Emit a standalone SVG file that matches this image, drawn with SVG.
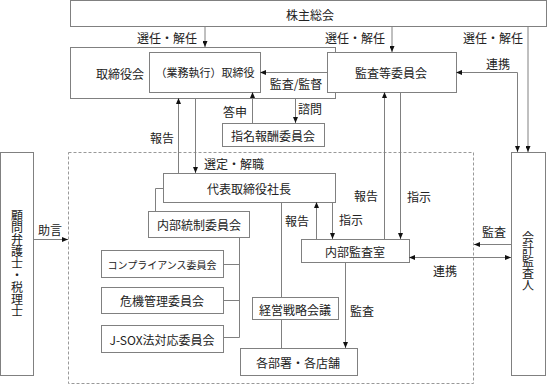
<svg xmlns="http://www.w3.org/2000/svg" width="548" height="385" viewBox="0 0 548 385">
<style>
.box{fill:#fff;stroke:#808080;stroke-width:1}
.ln{fill:none;stroke:#808080;stroke-width:1}
.dash{fill:none;stroke:#999;stroke-width:1;stroke-dasharray:3,2}
text{font-family:"Noto Sans CJK JP","Liberation Serif",sans-serif;font-size:12px;fill:#222;text-anchor:middle;dominant-baseline:central}
.s{font-size:10px}
.m{font-size:11px}
.v{writing-mode:vertical-rl;dominant-baseline:auto}
</style>
<defs>
<marker id="ah" viewBox="0 0 6 5" refX="6" refY="2.5" markerWidth="6" markerHeight="5" markerUnits="userSpaceOnUse" orient="auto-start-reverse">
<path d="M0,0 L6,2.5 L0,5 z" fill="#111"/>
</marker>
</defs>

<rect class="dash" x="68.5" y="152.5" width="405" height="231"/>

<g id="shareholders">
<rect class="box" x="70.5" y="0.5" width="476" height="26"/>
<text x="310" y="14">株主総会</text>
</g>
<g id="board">
<rect class="box" x="70.5" y="47.5" width="265" height="51"/>
<text x="120" y="73">取締役会</text>
</g>
<g id="exec-directors">
<rect class="box" x="149.5" y="52.5" width="111" height="40"/>
<text class="m" x="205" y="72">（業務執行）取締役</text>
</g>
<g id="audit-committee">
<rect class="box" x="327.5" y="52.5" width="129" height="40"/>
<text x="391" y="72">監査等委員会</text>
</g>
<g id="nomination-committee">
<rect class="box" x="222.5" y="123.5" width="102" height="23"/>
<text x="273" y="135">指名報酬委員会</text>
</g>
<g id="president">
<rect class="box" x="163.5" y="173.5" width="172" height="29"/>
<text x="249" y="188">代表取締役社長</text>
</g>
<g id="advisors">
<rect class="box" x="0.5" y="152.5" width="33" height="223"/>
<text class="v" x="17" y="263.5">顧問弁護士・税理士</text>
</g>
<g id="auditor">
<rect class="box" x="511.5" y="152.5" width="34" height="223"/>
<text class="v" x="528" y="261">会計監査人</text>
</g>
<g id="internal-control">
<rect class="box" x="148.5" y="211.5" width="101" height="26"/>
<text x="199" y="224">内部統制委員会</text>
</g>
<g id="compliance">
<rect class="box" x="101.5" y="250.5" width="122" height="27"/>
<text class="s" x="162" y="264">コンプライアンス委員会</text>
</g>
<g id="risk">
<rect class="box" x="101.5" y="287.5" width="122" height="26"/>
<text x="162" y="300">危機管理委員会</text>
</g>
<g id="jsox">
<rect class="box" x="101.5" y="325.5" width="122" height="27"/>
<text x="162" y="339">J-SOX法対応委員会</text>
</g>
<g id="strategy">
<rect class="box" x="252.5" y="297.5" width="86" height="22"/>
<text x="295" y="309">経営戦略会議</text>
</g>
<g id="departments">
<rect class="box" x="240.5" y="348.5" width="117" height="27"/>
<text x="298" y="362">各部署・各店舗</text>
</g>
<g id="internal-audit">
<rect class="box" x="301.5" y="239.5" width="108" height="23"/>
<text x="355" y="251">内部監査室</text>
</g>

<g id="connectors">
<line class="ln" x1="205" y1="26.5" x2="205" y2="47" marker-end="url(#ah)"/>
<line class="ln" x1="392" y1="26.5" x2="392" y2="52" marker-end="url(#ah)"/>
<line class="ln" x1="528" y1="26.5" x2="528" y2="152" marker-end="url(#ah)"/>
<polyline class="ln" points="456,72.5 517.5,72.5 517.5,152" marker-start="url(#ah)" marker-end="url(#ah)"/>
<line class="ln" x1="327" y1="72.5" x2="260" y2="72.5" marker-end="url(#ah)"/>
<line class="ln" x1="295.5" y1="98" x2="295.5" y2="123" marker-end="url(#ah)"/>
<line class="ln" x1="252.5" y1="123" x2="252.5" y2="92" marker-end="url(#ah)"/>
<line class="ln" x1="178.5" y1="173" x2="178.5" y2="98" marker-end="url(#ah)"/>
<line class="ln" x1="195.5" y1="98" x2="195.5" y2="173" marker-end="url(#ah)"/>
<line class="ln" x1="33" y1="239.5" x2="68" y2="239.5" marker-end="url(#ah)"/>
<polyline class="ln" points="163,188.5 155.5,188.5 155.5,211"/>
<line class="ln" x1="239.5" y1="237" x2="239.5" y2="337.5"/>
<line class="ln" x1="223" y1="264.5" x2="239.5" y2="264.5"/>
<line class="ln" x1="223" y1="300.5" x2="239.5" y2="300.5"/>
<line class="ln" x1="223" y1="337.5" x2="239.5" y2="337.5"/>
<line class="ln" x1="281.5" y1="202" x2="281.5" y2="297"/>
<line class="ln" x1="281.5" y1="319.5" x2="281.5" y2="348"/>
<line class="ln" x1="316.5" y1="239" x2="316.5" y2="202" marker-end="url(#ah)"/>
<line class="ln" x1="332.5" y1="202" x2="332.5" y2="239" marker-end="url(#ah)"/>
<line class="ln" x1="384.5" y1="239" x2="384.5" y2="92" marker-end="url(#ah)"/>
<line class="ln" x1="400.5" y1="92" x2="400.5" y2="239" marker-end="url(#ah)"/>
<line class="ln" x1="345.5" y1="262" x2="345.5" y2="348" marker-end="url(#ah)"/>
<line class="ln" x1="511" y1="244.5" x2="474" y2="244.5" marker-end="url(#ah)"/>
<line class="ln" x1="409" y1="257.5" x2="511" y2="257.5" marker-start="url(#ah)" marker-end="url(#ah)"/>
<text x="167" y="37">選任・解任</text>
<text x="355" y="37">選任・解任</text>
<text x="493" y="37">選任・解任</text>
<text x="498" y="63">連携</text>
<text x="296" y="83">監査/監督</text>
<text x="310" y="108">諮問</text>
<text x="235" y="111">答申</text>
<text x="162" y="137">報告</text>
<text x="234" y="163">選定・解職</text>
<text x="50" y="229">助言</text>
<text x="297" y="220">報告</text>
<text x="351" y="219">指示</text>
<text x="366" y="195">報告</text>
<text x="419" y="196">指示</text>
<text x="494" y="231">監査</text>
<text x="445" y="270">連携</text>
<text x="362" y="310">監査</text>
</g>
</svg>
